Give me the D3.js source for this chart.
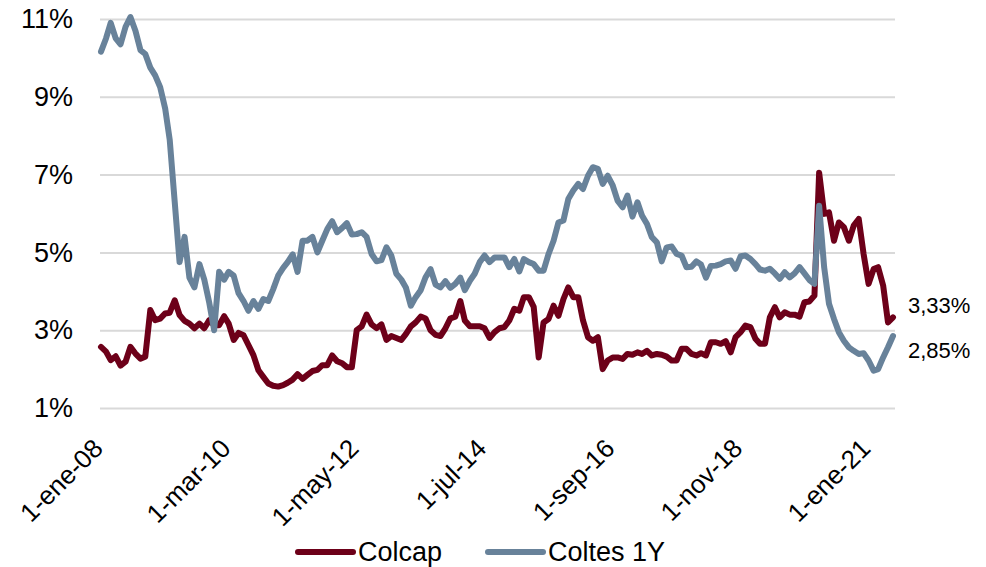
<!DOCTYPE html>
<html>
<head>
<meta charset="utf-8">
<script src="https://cdn.jsdelivr.net/npm/d3@7"></script>
<style>
  body { margin: 0; background: #fff; }
  svg text { font-family: "Liberation Sans", Arial, sans-serif; fill: #000; }
</style>
</head>
<body>
<div id="chart"></div>
<script>
// monthly points, ene-2008 .. jun-2021
var firstMonth = new Date(2008, 0, 1),
    lastMonth = new Date(2021, 5, 1);
var months = d3.timeMonth.range(firstMonth, d3.timeMonth.offset(lastMonth, 1));

var colcap = [
    2.57, 2.45, 2.23, 2.33, 2.09, 2.19, 2.57, 2.4, 2.27, 2.32,
    3.52, 3.26, 3.3, 3.43, 3.45, 3.77, 3.39, 3.24, 3.17, 3.05,
    3.17, 3.05, 3.26, 3.13, 3.13, 3.36, 3.17, 2.75, 2.93, 2.87,
    2.62, 2.36, 1.97, 1.8, 1.63, 1.57, 1.55, 1.59, 1.65, 1.73,
    1.87, 1.75, 1.85, 1.95, 1.98, 2.1, 2.1, 2.35, 2.2, 2.15,
    2.05, 2.05, 3.0, 3.1, 3.4, 3.15, 3.05, 3.15, 2.75, 2.85,
    2.8, 2.75, 2.9, 3.1, 3.2, 3.35, 3.3, 3.0, 2.88, 2.85,
    3.05, 3.3, 3.35, 3.75, 3.25, 3.1, 3.1, 3.1, 3.05, 2.8,
    2.95, 3.05, 3.08, 3.25, 3.55, 3.5, 3.85, 3.85, 3.6, 2.3,
    3.2, 3.29, 3.63, 3.37, 3.8, 4.1, 3.85, 3.85, 3.25, 2.82,
    2.73, 2.82, 2.0, 2.22, 2.3, 2.3, 2.26, 2.39, 2.37, 2.43,
    2.39, 2.47, 2.35, 2.39, 2.37, 2.32, 2.22, 2.22, 2.52, 2.52,
    2.39, 2.35, 2.41, 2.35, 2.69, 2.69, 2.65, 2.72, 2.43, 2.82,
    2.95, 3.12, 3.08, 2.78, 2.65, 2.65, 3.33, 3.59, 3.33, 3.46,
    3.4, 3.4, 3.35, 3.72, 3.74, 3.89, 7.05, 5.99, 6.03, 5.3,
    5.77, 5.65, 5.3, 5.69, 5.86, 4.96, 4.19, 4.57, 4.62, 4.15,
    3.2, 3.33
];

var coltes = [
    10.16, 10.5, 10.9, 10.5, 10.35, 10.8, 11.05, 10.7, 10.2, 10.1,
    9.75, 9.55, 9.25, 8.7, 7.9, 6.3, 4.75, 5.4, 4.35, 4.1,
    4.7, 4.3, 3.7, 3.0, 4.5, 4.3, 4.5, 4.4, 3.95, 3.75,
    3.5, 3.75, 3.55, 3.8, 3.75, 4.05, 4.4, 4.6, 4.75, 4.95,
    4.5, 5.3, 5.3, 5.4, 5.0, 5.3, 5.6, 5.8, 5.52, 5.63,
    5.75, 5.46, 5.47, 5.52, 5.4, 4.96, 4.77, 4.8, 5.13, 4.92,
    4.45, 4.3, 4.1, 3.63, 3.85, 4.03, 4.36, 4.57, 4.17, 4.1,
    4.26, 4.09, 4.19, 4.35, 4.03, 4.27, 4.45, 4.75, 4.92, 4.75,
    4.87, 4.87, 4.87, 4.62, 4.83, 4.51, 4.83, 4.75, 4.7, 4.53,
    4.53, 4.96, 5.3, 5.77, 5.82, 6.37, 6.59, 6.76, 6.63, 6.97,
    7.19, 7.15, 6.76, 6.97, 6.72, 6.33, 6.16, 6.46, 5.92, 6.29,
    5.95, 5.73, 5.39, 5.26, 4.77, 5.13, 5.15, 4.96, 4.92, 4.62,
    4.63, 4.77, 4.69, 4.35, 4.65, 4.66, 4.7, 4.77, 4.79, 4.58,
    4.9, 4.92, 4.83, 4.7, 4.56, 4.53, 4.58, 4.46, 4.32, 4.49,
    4.36, 4.46, 4.62, 4.46, 4.29, 4.19, 6.2, 4.62, 3.68, 3.29,
    2.95, 2.73, 2.56, 2.47, 2.39, 2.41, 2.22, 1.96, 2.0, 2.3,
    2.56, 2.85
];

var xTickDates = [new Date(2008, 0, 1), new Date(2010, 2, 1), new Date(2012, 4, 1),
    new Date(2014, 6, 1), new Date(2016, 8, 1), new Date(2018, 10, 1), new Date(2021, 0, 1)];
var xTickLabels = ["1-ene-08", "1-mar-10", "1-may-12", "1-jul-14", "1-sep-16", "1-nov-18", "1-ene-21"];
var yTicks = [1, 3, 5, 7, 9, 11];

var series = [
    { name: "Colcap", values: colcap, color: "#6d0019", endLabel: "3,33%", labelDy: -12 },
    { name: "Coltes 1Y", values: coltes, color: "#68829a", endLabel: "2,85%", labelDy: 14 }
];

var width = 986,
    height = 567;

var x = d3.scaleTime()
    .domain([firstMonth, lastMonth])
    .range([101, 893]);

var y = d3.scaleLinear()
    .domain([1, 11])
    .range([408, 19]);

var svg = d3.select("#chart")
    .append("svg")
    .attr("width", width)
    .attr("height", height);

// gridlines + y labels
var yAxis = svg.append("g")
    .attr("transform", "translate(100,0)")
    .call(d3.axisLeft(y)
        .tickValues(yTicks)
        .tickFormat(function (d) { return d + "%"; })
        .tickSize(-795)
        .tickPadding(27));
yAxis.select(".domain").remove();
yAxis.selectAll("line").attr("stroke", "#d9d9d9").attr("stroke-width", 2);
yAxis.selectAll("text").style("font-size", "27px");

// x labels, rotated
var xAxis = svg.append("g")
    .attr("transform", "translate(3,408)")
    .call(d3.axisBottom(x)
        .tickValues(xTickDates)
        .tickFormat(function (d, i) { return xTickLabels[i]; })
        .tickSize(0));
xAxis.select(".domain").remove();
xAxis.selectAll("text")
    .style("font-size", "26px")
    .style("text-anchor", "end")
    .attr("x", 0)
    .attr("y", 0)
    .attr("dy", 0)
    .attr("transform", "translate(0,42) rotate(-45)");

var line = d3.line()
    .x(function (d, i) { return x(months[i]); })
    .y(function (d) { return y(d); });

series.forEach(function (s) {
    svg.append("path")
        .datum(s.values)
        .attr("d", line)
        .attr("fill", "none")
        .attr("stroke", s.color)
        .attr("stroke-width", 6)
        .attr("stroke-linejoin", "round")
        .attr("stroke-linecap", "round");

    var last = s.values[s.values.length - 1];
    svg.append("text")
        .attr("x", x(lastMonth) + 15)
        .attr("y", y(last) + s.labelDy)
        .attr("dy", "0.35em")
        .style("font-size", "22px")
        .text(s.endLabel);
});

// legend
var legend = svg.append("g").attr("transform", "translate(298,552)");
var lx = [0, 190];
series.forEach(function (s, i) {
    var g = legend.append("g").attr("transform", "translate(" + lx[i] + ",0)");
    g.append("line")
        .attr("x1", 0).attr("x2", 55)
        .attr("stroke", s.color)
        .attr("stroke-width", 6)
        .attr("stroke-linecap", "round");
    g.append("text")
        .attr("x", 60)
        .attr("dy", "0.35em")
        .style("font-size", "27px")
        .text(s.name);
});
</script>
</body>
</html>
